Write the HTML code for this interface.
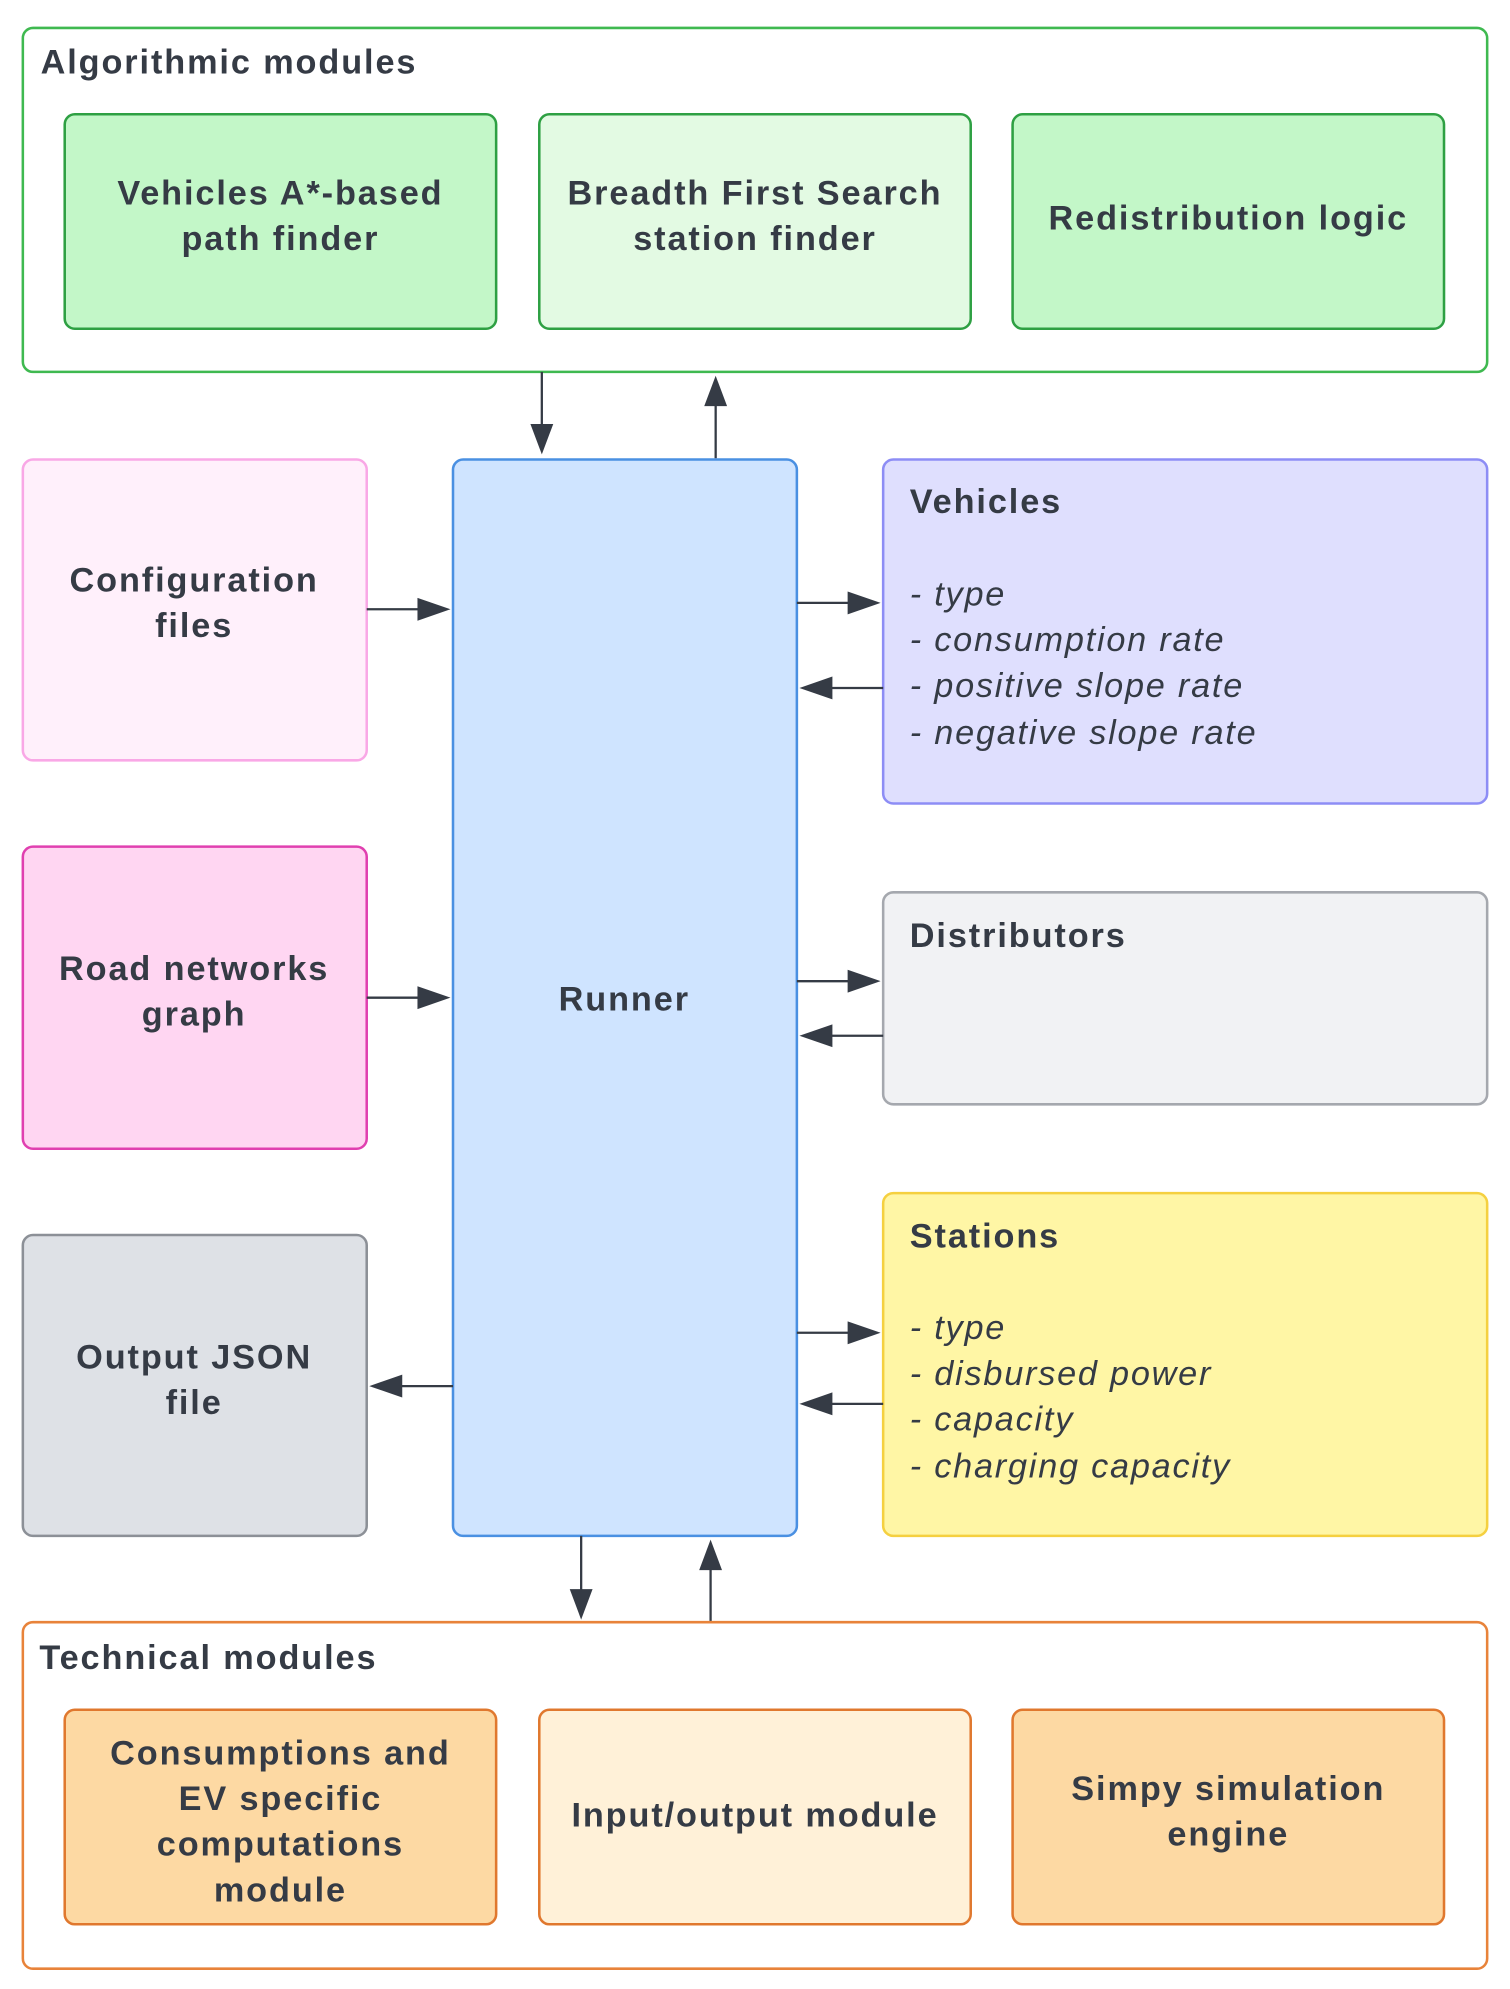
<!DOCTYPE html>
<html><head><meta charset="utf-8"><style>
html,body{margin:0;padding:0;background:#fff;}
svg{display:block;}
text{font-family:"Liberation Sans",Arial,sans-serif;fill:#353b45;}
.b{font-weight:bold;font-size:27px;letter-spacing:1.5px;}
.i{font-style:italic;font-size:27px;letter-spacing:1.4px;}
</style></head><body>
<svg width="1510" height="1989" viewBox="0 0 1190 1567" preserveAspectRatio="none" xmlns="http://www.w3.org/2000/svg">
<g stroke-width="2">
<rect x="18" y="22" width="1154" height="271" rx="8" fill="#fff" stroke="#3fb950"/>
<rect x="51" y="90" width="340" height="169" rx="8" fill="#c3f7c8" stroke="#2ea043"/>
<rect x="425" y="90" width="340" height="169" rx="8" fill="#e3fae3" stroke="#2ea043"/>
<rect x="798" y="90" width="340" height="169" rx="8" fill="#c3f7c8" stroke="#2ea043"/>
<rect x="18" y="362" width="271" height="237" rx="8" fill="#fff0fb" stroke="#f9a8e6"/>
<rect x="18" y="667" width="271" height="238" rx="8" fill="#ffd6f2" stroke="#e040b0"/>
<rect x="18" y="973" width="271" height="237" rx="8" fill="#dee1e6" stroke="#8c9097"/>
<rect x="357" y="362" width="271" height="848" rx="8" fill="#cfe4ff" stroke="#4a90e2"/>
<rect x="696" y="362" width="476" height="271" rx="8" fill="#dfdffe" stroke="#8d8df5"/>
<rect x="696" y="703" width="476" height="167" rx="8" fill="#f1f2f4" stroke="#a5a8ae"/>
<rect x="696" y="940" width="476" height="270" rx="8" fill="#fff6a5" stroke="#f5d040"/>
<rect x="18" y="1278" width="1154" height="273" rx="8" fill="#fff" stroke="#e8833a"/>
<rect x="51" y="1347" width="340" height="169" rx="8" fill="#fdd9a3" stroke="#e0782e"/>
<rect x="425" y="1347" width="340" height="169" rx="8" fill="#fff1d8" stroke="#e0782e"/>
<rect x="798" y="1347" width="340" height="169" rx="8" fill="#fdd9a3" stroke="#e0782e"/>
</g>
<g stroke="#353b45" stroke-width="1.8" fill="none">
<line x1="427" y1="293" x2="427" y2="340"/>
<line x1="564" y1="361" x2="564" y2="316"/>
<line x1="289" y1="480" x2="333" y2="480"/>
<line x1="289" y1="786" x2="333" y2="786"/>
<line x1="357" y1="1092" x2="313" y2="1092"/>
<line x1="628" y1="475" x2="672" y2="475"/>
<line x1="696" y1="542" x2="652" y2="542"/>
<line x1="628" y1="773" x2="672" y2="773"/>
<line x1="696" y1="816" x2="652" y2="816"/>
<line x1="628" y1="1050" x2="672" y2="1050"/>
<line x1="696" y1="1106" x2="652" y2="1106"/>
<line x1="458" y1="1210" x2="458" y2="1256"/>
<line x1="560" y1="1277" x2="560" y2="1233"/>
</g>
<g fill="#353b45">
<polygon points="418,334 436,334 427,358"/>
<polygon points="555,320 573,320 564,296"/>
<polygon points="329,471 329,489 355,480"/>
<polygon points="329,777 329,795 355,786"/>
<polygon points="317,1083 317,1101 291,1092"/>
<polygon points="668,466 668,484 694,475"/>
<polygon points="656,533 656,551 630,542"/>
<polygon points="668,764 668,782 694,773"/>
<polygon points="656,807 656,825 630,816"/>
<polygon points="668,1041 668,1059 694,1050"/>
<polygon points="656,1097 656,1115 630,1106"/>
<polygon points="449,1252 467,1252 458,1276"/>
<polygon points="551,1237 569,1237 560,1213"/>
</g>
<text class="b" x="32" y="58">Algorithmic modules</text>
<text class="b" x="221" y="161" text-anchor="middle">Vehicles A*-based</text>
<text class="b" x="221" y="197" text-anchor="middle">path finder</text>
<text class="b" x="595" y="161" text-anchor="middle">Breadth First Search</text>
<text class="b" x="595" y="197" text-anchor="middle">station finder</text>
<text class="b" x="968" y="181" text-anchor="middle">Redistribution logic</text>
<text class="b" x="153" y="466" text-anchor="middle">Configuration</text>
<text class="b" x="153" y="502" text-anchor="middle">files</text>
<text class="b" x="153" y="772" text-anchor="middle">Road networks</text>
<text class="b" x="153" y="808" text-anchor="middle">graph</text>
<text class="b" x="153" y="1078" text-anchor="middle">Output JSON</text>
<text class="b" x="153" y="1114" text-anchor="middle">file</text>
<text class="b" x="492" y="796" text-anchor="middle">Runner</text>
<text class="b" x="717" y="404">Vehicles</text>
<text class="i" x="717" y="477">- type</text>
<text class="i" x="717" y="513">- consumption rate</text>
<text class="i" x="717" y="549">- positive slope rate</text>
<text class="i" x="717" y="586">- negative slope rate</text>
<text class="b" x="717" y="746">Distributors</text>
<text class="b" x="717" y="983">Stations</text>
<text class="i" x="717" y="1055">- type</text>
<text class="i" x="717" y="1091">- disbursed power</text>
<text class="i" x="717" y="1127">- capacity</text>
<text class="i" x="717" y="1164">- charging capacity</text>
<text class="b" x="31" y="1315">Technical modules</text>
<text class="b" x="221" y="1390" text-anchor="middle">Consumptions and</text>
<text class="b" x="221" y="1426" text-anchor="middle">EV specific</text>
<text class="b" x="221" y="1462" text-anchor="middle">computations</text>
<text class="b" x="221" y="1498" text-anchor="middle">module</text>
<text class="b" x="595" y="1439" text-anchor="middle">Input/output module</text>
<text class="b" x="968" y="1418" text-anchor="middle">Simpy simulation</text>
<text class="b" x="968" y="1454" text-anchor="middle">engine</text>
</svg>
</body></html>
